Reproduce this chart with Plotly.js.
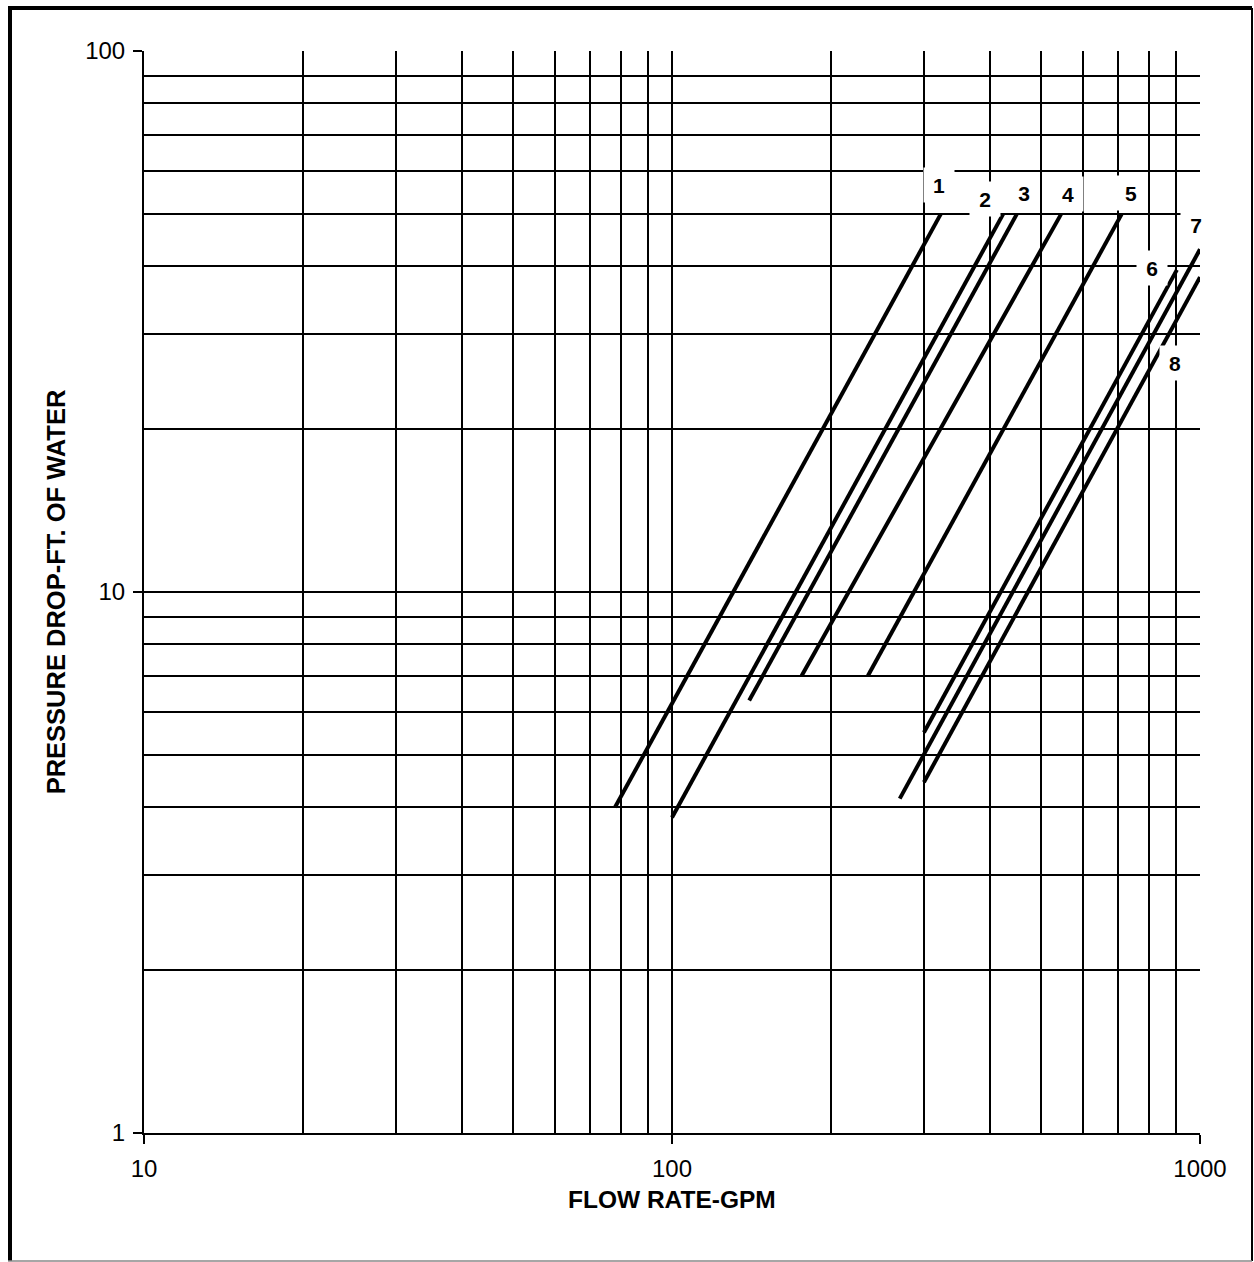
<!DOCTYPE html>
<html>
<head>
<meta charset="utf-8">
<script src="https://cdn.plot.ly/plotly-3.0.1.min.js"></script>
<style>
  html, body { margin: 0; padding: 0; background: #fff; }
  #chart { width: 1254px; height: 1262px; }
</style>
</head>
<body>
<div id="chart"></div>
<script>
// Curve identifiers
const curveNames = ['1', '2', '3', '4', '5', '6', '7', '8'];
// Flow rate (GPM) at each curve's lower and upper end
const flowStart = [78, 100, 140, 176, 235, 300, 270, 300];
const flowEnd   = [323, 424, 450, 546, 711, 904, 1000, 1000];
// Pressure drop (ft of water) at each curve's lower and upper end
const dropStart = [4.0, 3.83, 6.3, 7.0, 7.0, 5.5, 4.15, 4.45];
const dropEnd   = [50, 50, 50, 50, 50, 39.4, 43, 38.2];

// Axis tick values / labels
const xMajor = [10, 100, 1000];
const xMajorText = ['10', '100', '1000'];
const xMinor = [20, 30, 40, 50, 60, 70, 80, 90, 200, 300, 400, 500, 600, 700, 800, 900];
const yMajor = [1, 10, 100];
const yMajorText = ['1', '10', '100'];
const yMinor = [2, 3, 4, 5, 6, 7, 8, 9, 20, 30, 40, 50, 60, 70, 80, 90];
const xTitle = 'FLOW RATE-GPM';
const yTitle = 'PRESSURE DROP-FT. OF WATER';

const traces = curveNames.map((n, i) => ({
  type: 'scatter',
  mode: 'lines',
  name: n,
  x: [flowStart[i], flowEnd[i]],
  y: [dropStart[i], dropEnd[i]],
  line: { color: '#000', width: 4 },
  hoverinfo: 'skip',
  showlegend: false
}));

const F = 'Liberation Sans, Arial, Helvetica, sans-serif';
const W = 1056, H = 1082; // plot area in px
const px = v => (v - 144) / W;
const py = v => (1133 - v) / H;

// Curve labels (white boxes), placed in log-axis coordinates
const labelPos = [
  [2.505, 1.752], [2.593, 1.727], [2.667, 1.738], [2.750, 1.735],
  [2.869, 1.738], [2.909, 1.599], [2.992, 1.678], [2.953, 1.423]
];
const annotations = curveNames.map((n, i) => ({
  x: labelPos[i][0], y: labelPos[i][1], xref: 'x', yref: 'y',
  text: n, showarrow: false,
  font: { family: F, size: 21, color: '#000', weight: 'bold' },
  bgcolor: '#fff', width: 30, height: 34, borderpad: 0
}));
annotations.push({
  x: 0.5, y: py(1199), xref: 'paper', yref: 'paper', xanchor: 'center', yanchor: 'middle',
  text: xTitle, showarrow: false,
  font: { family: F, size: 24.5, color: '#000', weight: 'bold' }
});

const shapes = [
  { type: 'line', xref: 'paper', yref: 'paper', x0: px(10), x1: px(10), y0: py(1261), y1: py(6), line: { color: '#000', width: 4 } },
  { type: 'line', xref: 'paper', yref: 'paper', x0: px(8), x1: px(1252), y0: py(8), y1: py(8), line: { color: '#000', width: 4 } },
  { type: 'line', xref: 'paper', yref: 'paper', x0: px(1252), x1: px(1252), y0: py(8), y1: py(1261), line: { color: '#000', width: 2 } },
  { type: 'line', xref: 'paper', yref: 'paper', x0: px(8), x1: px(1252), y0: py(1261), y1: py(1261), line: { color: '#888', width: 1.5 } }
];

const layout = {
  width: 1254, height: 1262,
  margin: { l: 144, r: 54, t: 51, b: 129, pad: 0 },
  paper_bgcolor: '#fff', plot_bgcolor: '#fff',
  font: { family: F, color: '#000', size: 24 },
  showlegend: false,
  xaxis: {
    type: 'log', range: [1, 3], autorange: false,
    tickvals: xMajor, ticktext: xMajorText,
    ticks: 'outside', ticklen: 9, tickwidth: 1.5, tickcolor: '#000',
    ticklabelstandoff: 4,
    showgrid: true, gridcolor: '#000', gridwidth: 2,
    showline: true, linecolor: '#000', linewidth: 2, mirror: false,
    zeroline: false,
    tickfont: { family: F, size: 24, color: '#000' },
    minor: { tickvals: xMinor, showgrid: true, gridcolor: '#000', gridwidth: 2, ticks: '' }
  },
  yaxis: {
    type: 'log', range: [0, 2], autorange: false,
    tickvals: yMajor, ticktext: yMajorText,
    ticks: 'outside', ticklen: 9, tickwidth: 1.5, tickcolor: '#000',
    ticklabelstandoff: 3,
    showgrid: true, gridcolor: '#000', gridwidth: 2,
    showline: true, linecolor: '#000', linewidth: 2, mirror: false,
    zeroline: false, automargin: true,
    tickfont: { family: F, size: 24, color: '#000' },
    minor: { tickvals: yMinor, showgrid: true, gridcolor: '#000', gridwidth: 2, ticks: '' },
    title: { text: yTitle, font: { family: F, size: 25.5, color: '#000', weight: 'bold' }, standoff: 12 }
  },
  annotations: annotations,
  shapes: shapes
};

Plotly.newPlot('chart', traces, layout, { staticPlot: true, displayModeBar: false });
</script>
</body>
</html>
